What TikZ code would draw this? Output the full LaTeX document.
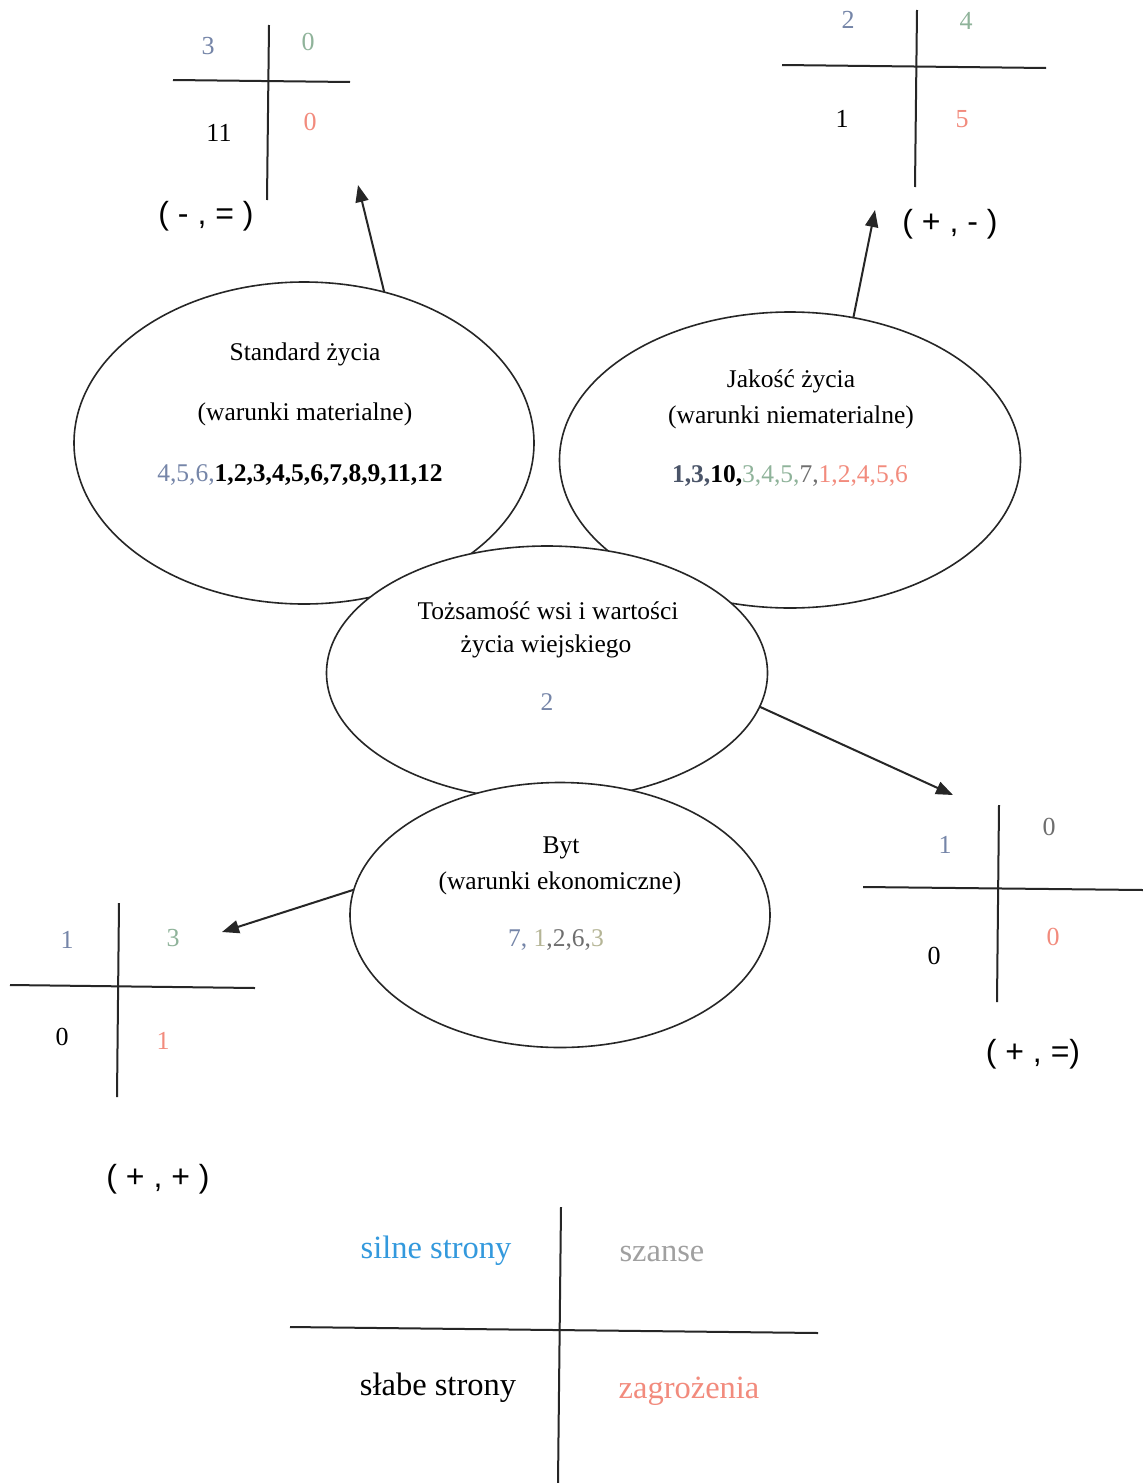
\documentclass[tikz,border=0pt]{standalone}
\usepackage{fontspec}
\setmainfont{Liberation Serif}
\newfontfamily\sansf{Liberation Sans}
\usetikzlibrary{shapes.geometric,arrows.meta}
\definecolor{cblue}{HTML}{7585A8}
\definecolor{cgreen}{HTML}{8FB39A}
\definecolor{csalmon}{HTML}{F28B7D}
\definecolor{cdark}{HTML}{4A5468}
\definecolor{cgray}{HTML}{6E6E6E}
\definecolor{colive}{HTML}{B5B596}
\definecolor{lblue}{HTML}{3399DD}
\definecolor{lgray}{HTML}{A0A0A0}
\begin{document}
\begin{tikzpicture}[x=1pt,y=-1pt,
  oval/.style={ellipse,draw,line width=1.6pt,draw=black!85,inner sep=0pt,outer sep=0pt,fill=white},
  txt/.style={font=\fontsize{25.5}{30}\selectfont,inner sep=0pt},
  num/.style={font=\fontsize{26}{30}\selectfont,inner sep=0pt},
  quad/.style={line width=2pt,draw=black!85},
  arr/.style={line width=2pt,draw=black!85,-{Triangle[length=17pt,width=13pt]}},
  sig/.style={font=\sansf\fontsize{32}{38}\selectfont,inner sep=0pt},
  leg/.style={font=\fontsize{32.5}{38}\selectfont,inner sep=0pt}]
\useasboundingbox[fill=white] (0,0) rectangle (1143,1483);

% ellipses
\node[oval,minimum width=460pt,minimum height=322pt] (e1) at (304,443) {};
\node[oval,minimum width=461pt,minimum height=296pt] (e2) at (790,460) {};
\node[oval,minimum width=441pt,minimum height=254pt] (e3) at (547,673) {};
\node[oval,minimum width=420pt,minimum height=265pt] (e4) at (560,915) {};

% ellipse texts
\node[txt] (t1a) at (305,354) {Standard życia};
\node[txt] (t1b) at (305,414) {(warunki materialne)};
\node[txt] (t1c) at (300,475) {\textcolor{cblue}{4,5,6,}\textbf{1,2,3,4,5,6,7,8,9,11,12}};

\node[txt] (t2a) at (791,381) {Jakość życia};
\node[txt] (t2b) at (791,417) {(warunki niematerialne)};
\node[txt] (t2c) at (790,476) {\textcolor{cdark}{\textbf{1,3,}}\textbf{10,}\textcolor{cgreen}{3,4,5,}\textcolor{cgray}{7,}\textcolor{csalmon}{1,2,4,5,6}};

\node[txt] (t3a) at (548,611) {Tożsamość wsi i wartości};
\node[txt] (t3b) at (546,646) {życia wiejskiego};
\node[txt,text=cblue] (t3c) at (547,702) {2};

\node[txt] (t4a) at (561,848) {Byt};
\node[txt] (t4b) at (560,883) {(warunki ekonomiczne)};
\node[txt] (t4c) at (556,940) {\textcolor{cblue}{7,} \textcolor{colive}{1}\textcolor{cgray}{,2,6,}\textcolor{colive}{3}};

% quadrant TL
\draw[quad] (173,80) -- (350,82);
\draw[quad] (269,25) -- (267,200);
\node[num,text=cblue] (q1a) at (208,46) {3};
\node[num,text=cgreen] (q1b) at (308,42) {0};
\node[num] (q1c) at (219,133) {11};
\node[num,text=csalmon] (q1d) at (310,122) {0};
\node[sig] (s1) at (206,216) {( - , = )};

% quadrant TR
\draw[quad] (782,65) -- (1046,68);
\draw[quad] (917,10) -- (915,187);
\node[num,text=cblue] (q2a) at (848,20) {2};
\node[num,text=cgreen] (q2b) at (966,21) {4};
\node[num] (q2c) at (842,119) {1};
\node[num,text=csalmon] (q2d) at (962,119) {5};
\node[sig] (s2) at (950,224) {( + , - )};

% quadrant right
\draw[quad] (863,887) -- (1143,890);
\draw[quad] (999,805) -- (997,1002);
\node[num,text=cblue] (q3a) at (945,845) {1};
\node[num,text=cgray] (q3b) at (1049,827) {0};
\node[num] (q3c) at (934,956) {0};
\node[num,text=csalmon] (q3d) at (1053,937) {0};
\node[sig] (s3) at (1033,1054) {( + , =)};

% quadrant left
\draw[quad] (10,985) -- (255,988);
\draw[quad] (119,903) -- (117,1097);
\node[num,text=cblue] (q4a) at (67,940) {1};
\node[num,text=cgreen] (q4b) at (173,938) {3};
\node[num] (q4c) at (62,1037) {0};
\node[num,text=csalmon] (q4d) at (163,1041) {1};
\node[sig] (s4) at (158,1179) {( + , + )};

% arrows
\coordinate (a1) at (358,185);
\coordinate (a2) at (875,210);
\coordinate (a3) at (953,795);
\coordinate (a4) at (222,932);
\draw[arr] (e1.62.8) -- (a1);
\draw[arr] (e2.66.1) -- (a2);
\draw[arr] (e3.-9.2) -- (a3);
\draw[arr] (e4.173.6) -- (a4);

% legend
\draw[quad] (290,1327) -- (818,1333);
\draw[quad] (561,1207) -- (558,1483);
\node[leg,text=lblue] (l1) at (436,1251) {silne strony};
\node[leg,text=lgray] (l2) at (662,1254) {szanse};
\node[leg] (l3) at (438,1388) {słabe strony};
\node[leg,text=csalmon] (l4) at (689,1391) {zagrożenia};
\end{tikzpicture}
\end{document}
